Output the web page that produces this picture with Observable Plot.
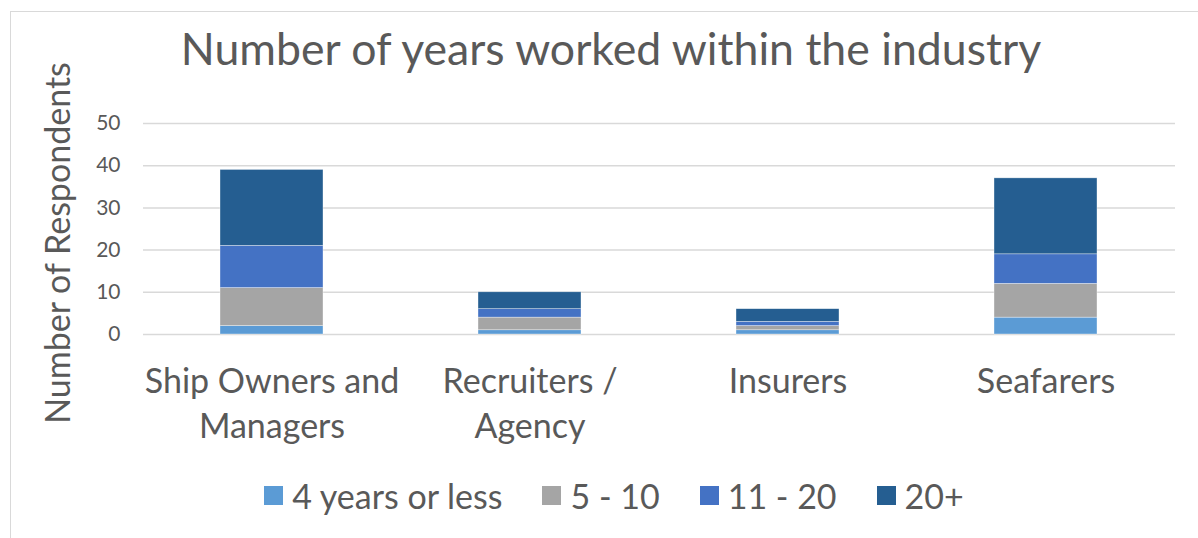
<!DOCTYPE html>
<html>
<head>
<meta charset="utf-8">
<script src="https://cdn.jsdelivr.net/npm/d3@7"></script>
<script src="https://cdn.jsdelivr.net/npm/@observablehq/plot@0.6"></script>
<style>
  html, body { margin: 0; padding: 0; background: #fff; }
  #wrap { position: relative; width: 1198px; height: 538px; overflow: hidden; font-family: Lato, "Open Sans", sans-serif; color: #595959; }
  #frame { position: absolute; left: 10px; top: 11px; width: 1300px; height: 600px; border-left: 1.5px solid #d9d9d9; border-top: 1.5px solid #d9d9d9; box-sizing: border-box; }
  #title { position: absolute; left: 0; width: 1222px; top: 21px; text-align: center; font-size: 44.6px; line-height: normal; white-space: nowrap; }
  #ylabel { position: absolute; left: -142.7px; top: 226px; width: 400px; height: 34px; line-height: 34px; font-size: 34px; text-align: center; white-space: nowrap; transform: rotate(-90deg); transform-origin: 50% 50%; }
  #chart { position: absolute; left: 0; top: 100px; }
  #legend { position: absolute; left: 0; width: 1228px; top: 475px; display: flex; justify-content: center; }
  .lg-swatches { font-family: Lato, "Open Sans", sans-serif !important; font-size: 34px !important; color: #595959 !important; display: flex !important; align-items: center !important; justify-content: center; min-height: 0 !important; margin: 0 !important; }
  .lg-swatch { margin-right: 40px !important; display: inline-flex !important; align-items: center !important; }
  .lg-swatch:last-child { margin-right: 0 !important; }
  .lg-swatch > svg { margin-right: 9px !important; }
</style>
</head>
<body>
<div id="wrap">
  <div id="frame"></div>
  <div id="title">Number of years worked within the industry</div>
  <div id="ylabel">Number of Respondents</div>
  <div id="chart"></div>
  <div id="legend"></div>
</div>
<script>
const categories = ["Ship Owners and Managers", "Recruiters / Agency", "Insurers", "Seafarers"];
const categoryLabels = ["Ship Owners and\nManagers", "Recruiters /\nAgency", "Insurers", "Seafarers"];
const seriesNames = ["4 years or less", "5 - 10", "11 - 20", "20+"];
const fourOrLess = [2, 1, 1, 4];
const fiveToTen = [9, 3, 1, 8];
const elevenToTwenty = [10, 2, 1, 7];
const overTwenty = [18, 4, 3, 18];
const seriesColors = ["#5B9BD5", "#A5A5A5", "#4472C4", "#255E91"];
const yTicks = [0, 10, 20, 30, 40, 50];

const seriesValues = [fourOrLess, fiveToTen, elevenToTwenty, overTwenty];
const table = [];
seriesNames.forEach((s, si) => {
  categories.forEach((c, ci) => {
    table.push({category: c, series: s, value: seriesValues[si][ci]});
  });
});
const labelOf = new Map(categories.map((c, i) => [c, categoryLabels[i]]));

const chart = Plot.plot({
  width: 1198,
  height: 360,
  marginTop: 23,
  marginBottom: 126,
  marginLeft: 143,
  marginRight: 23,
  style: {fontFamily: "Lato, 'Open Sans', sans-serif", color: "#595959", background: "transparent", overflow: "visible"},
  x: {domain: categories, paddingInner: 0.6, paddingOuter: 0.3, label: null},
  y: {domain: [0, 50], label: null},
  color: {domain: seriesNames, range: seriesColors},
  marks: [
    Plot.gridY(yTicks, {stroke: "#d9d9d9", strokeOpacity: 1, strokeWidth: 1.5}),
    Plot.barY(table, {x: "category", y: "value", fill: "series", stroke: "#ffffff", strokeWidth: 0.6, strokeOpacity: 0.6}),
    Plot.axisY(yTicks, {tickSize: 0, tickPadding: 23, fontSize: 21, fill: "#595959", label: null}),
    Plot.axisX({tickSize: 0, tickPadding: 27, fontSize: 34, lineHeight: 45 / 34, fill: "#595959", tickFormat: (d) => labelOf.get(d), label: null})
  ]
});
document.getElementById("chart").appendChild(chart);

const legend = Plot.legend({
  color: {domain: seriesNames, range: seriesColors},
  legend: "swatches",
  swatchSize: 19,
  className: "lg"
});
document.getElementById("legend").appendChild(legend);
</script>
</body>
</html>
